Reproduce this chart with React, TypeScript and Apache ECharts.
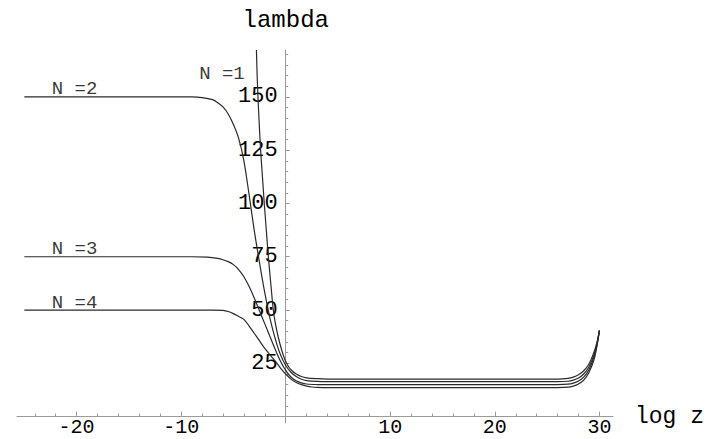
import React, { useEffect, useRef } from "react";
import * as echarts from "echarts";

// ---- data (x = log z, y = lambda) ----
const curveN1: [number, number][] = [
  [-2.8, 172], [-2.72, 158], [-2.56, 140], [-2.4, 125], [-2.22, 112], [-2.05, 100],
  [-1.85, 87], [-1.66, 75], [-1.42, 62], [-1.19, 50], [-1.0, 44], [-0.7, 37],
  [-0.4, 31.5], [-0.1, 27], [0.2, 24], [0.5, 22], [1, 20], [1.5, 18.8], [2, 18.2],
  [3, 17.8], [4, 17.6], [26, 17.6], [27, 17.9], [27.5, 18.5], [28, 19.6],
  [28.5, 21.5], [29, 24.7], [29.5, 30.5], [29.8, 35.5], [30, 40.3],
];
const curveN2: [number, number][] = [
  [-25, 150], [-9, 150], [-8, 149.7], [-7, 148.7], [-6.5, 147.3], [-6, 145.3],
  [-5.5, 142], [-5, 137], [-4.5, 130.5], [-4, 120], [-3.5, 104], [-3, 87],
  [-2.5, 72], [-2, 58], [-1.5, 46], [-1, 36.5], [-0.5, 29], [0, 24], [0.5, 20.8],
  [1, 18.8], [1.5, 17.5], [2, 16.9], [3, 16.5], [4, 16.4], [26, 16.4], [27, 16.6],
  [27.5, 17.1], [28, 18.1], [28.5, 20], [29, 23.3], [29.5, 29.3], [29.8, 35], [30, 40.3],
];
const curveN3: [number, number][] = [
  [-25, 75], [-9, 75], [-7.5, 74.8], [-6.5, 74.2], [-6, 73.6], [-5.5, 72.7],
  [-5, 71.3], [-4.5, 69], [-4, 65.6], [-3.5, 61], [-3, 55.5], [-2.5, 49.5],
  [-2, 43.5], [-1.5, 37.5], [-1, 31.5], [-0.5, 26], [0, 21.7], [0.5, 18.6],
  [1, 16.8], [1.5, 15.8], [2, 15.3], [3, 15.05], [4, 15], [26, 15], [27, 15.2],
  [27.5, 15.7], [28, 16.7], [28.5, 18.5], [29, 22], [29.5, 28.2], [29.8, 34.5], [30, 40.3],
];
const curveN4: [number, number][] = [
  [-25, 50], [-7, 50], [-6, 49.8], [-5.5, 49.3], [-5, 48.3], [-4.5, 47], [-4, 45.6],
  [-3.5, 42.5], [-3, 39], [-2.5, 35.5], [-2, 32], [-1.5, 29], [-1, 26], [-0.5, 22.8],
  [0, 20], [0.5, 17.6], [1, 16], [1.5, 15], [2, 14.3], [2.5, 13.9], [3, 13.7],
  [4, 13.6], [26, 13.6], [27, 13.8], [27.5, 14.3], [28, 15.3], [28.5, 17.1],
  [29, 20.7], [29.5, 27], [29.8, 34], [30, 40.3],
];

const curveNames = ["N =1", "N =2", "N =3", "N =4"];
// where each curve label sits (data coordinates)
const labelAnchors: [number, number][] = [
  [-6.1, 160.6], [-20.2, 153.6], [-20.2, 78.6], [-20.2, 53.3],
];

const xMajorTicks = [-20, -10, 10, 20, 30];
const xMinorTicks = [-24, -22, -18, -16, -14, -12, -8, -6, -4, -2, 2, 4, 6, 8, 12, 14, 16, 18, 22, 24, 26, 28];
const yMajorTicks = [25, 50, 75, 100, 125, 150];
const yMinorTicks = [5, 10, 15, 20, 30, 35, 40, 45, 55, 60, 65, 70, 80, 85, 90, 95, 105, 110, 115, 120, 130, 135, 140, 145, 155, 160, 165, 170];

const X_MIN = -25.7;
const X_MAX = 31.3;
const Y_MIN = -3;
const Y_MAX = 172;

const GRID_LEFT = 17;
const GRID_TOP = 50;
const GRID_W = 596;
const GRID_H = 373;

const FONT = "Liberation Mono";
const AXIS_COLOR = "#9a9a9a";
const LINE_COLOR = "#2a2a2a";

export default function App() {
  const ref = useRef<HTMLDivElement>(null);

  useEffect(() => {
    if (!ref.current) return;
    const chart = echarts.init(ref.current, null, { renderer: "svg" });

    // axes cross at the origin: shift them inward from the grid edges
    const yAxisOffset = -GRID_W * (0 - X_MIN) / (X_MAX - X_MIN);
    const xAxisOffset = -GRID_H * (0 - Y_MIN) / (Y_MAX - Y_MIN);

    const baseX = {
      type: "value",
      min: X_MIN,
      max: X_MAX,
      position: "bottom",
      offset: xAxisOffset,
      splitLine: { show: false },
    };
    const baseY = {
      type: "value",
      min: Y_MIN,
      max: Y_MAX,
      position: "left",
      offset: yAxisOffset,
      splitLine: { show: false },
    };

    const curves = [curveN1, curveN2, curveN3, curveN4];

    chart.setOption({
      animation: false,
      backgroundColor: "#ffffff",
      grid: { left: GRID_LEFT, top: GRID_TOP, width: GRID_W, height: GRID_H, containLabel: false, outerBoundsMode: "none" },
      xAxis: [
        {
          ...baseX,
          name: "log z",
          nameLocation: "end",
          nameGap: 22,
          nameTextStyle: { fontFamily: FONT, fontSize: 23, color: "#000" },
          axisLine: { show: true, onZero: false, lineStyle: { color: AXIS_COLOR, width: 1 } },
          axisTick: { show: true, inside: true, length: 5, customValues: xMajorTicks, lineStyle: { color: AXIS_COLOR } },
          axisLabel: {
            show: true,
            customValues: xMajorTicks,
            margin: 3,
            lineHeight: 16,
            fontFamily: FONT,
            fontSize: 20,
            color: "#000",
          },
        },
        {
          ...baseX,
          axisLine: { show: false, onZero: false },
          axisTick: { show: true, inside: true, length: 3, customValues: xMinorTicks, lineStyle: { color: AXIS_COLOR } },
          axisLabel: { show: false },
        },
      ],
      yAxis: [
        {
          ...baseY,
          name: "lambda",
          nameLocation: "end",
          nameGap: 18,
          nameTextStyle: { fontFamily: FONT, fontSize: 24, color: "#000" },
          axisLine: { show: true, onZero: false, lineStyle: { color: AXIS_COLOR, width: 1 } },
          axisTick: { show: true, inside: true, length: 4, customValues: yMajorTicks, lineStyle: { color: AXIS_COLOR } },
          axisLabel: { show: true, customValues: yMajorTicks, margin: 8, fontFamily: FONT, fontSize: 22, color: "#000" },
        },
        {
          ...baseY,
          axisLine: { show: false, onZero: false },
          axisTick: { show: true, inside: true, length: 2.5, customValues: yMinorTicks, lineStyle: { color: AXIS_COLOR } },
          axisLabel: { show: false },
        },
      ],
      series: [
        ...curves.map((c, i) => ({
          type: "line",
          name: curveNames[i],
          data: c,
          xAxisIndex: 0,
          yAxisIndex: 0,
          showSymbol: false,
          symbol: "none",
          smooth: 0.3,
          clip: true,
          silent: true,
          lineStyle: { color: LINE_COLOR, width: 1.2 },
        })),
        {
          type: "scatter",
          xAxisIndex: 0,
          yAxisIndex: 0,
          symbolSize: 1,
          silent: true,
          itemStyle: { color: "transparent" },
          data: labelAnchors.map((p, i) => ({ value: p, name: curveNames[i] })),
          label: {
            show: true,
            position: "inside",
            formatter: "{b}",
            fontFamily: FONT,
            fontSize: 19,
            color: "#000",
          },
        },
      ],
    });

    return () => chart.dispose();
  }, []);

  return (
    <div
      ref={ref}
      style={{ position: "absolute", left: 0, top: 0, width: 718, height: 439, background: "#fff" }}
    />
  );
}
